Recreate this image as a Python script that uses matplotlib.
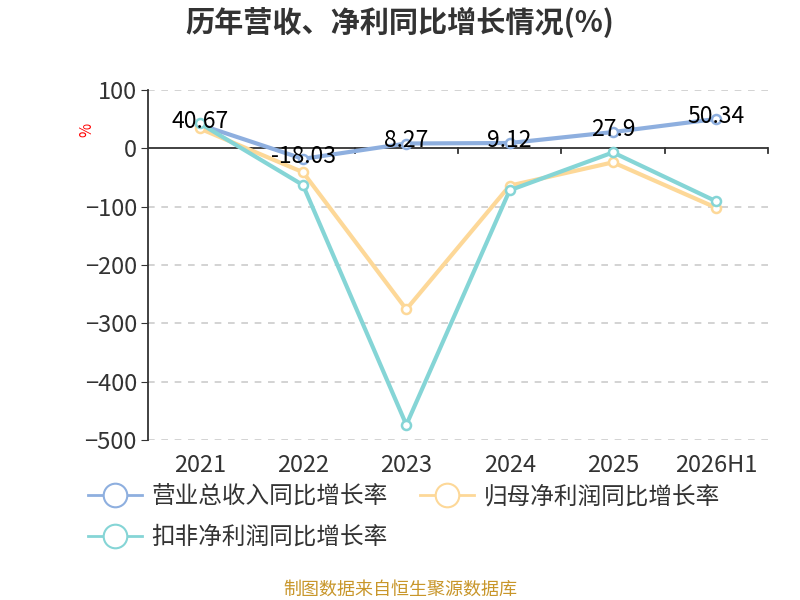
import matplotlib.pyplot as plt
from matplotlib.lines import Line2D

plt.rcParams['font.family'] = ['Noto Sans CJK SC', 'DejaVu Sans']

years = ['2021', '2022', '2023', '2024', '2025', '2026H1']
revenue = [40.67, -18.03, 8.27, 9.12, 27.9, 50.34]
net_profit = [34, -41, -276, -64, -24, -102]
deduct_profit = [43, -63, -474, -72, -7, -91]

names = ['营业总收入同比增长率', '归母净利润同比增长率', '扣非净利润同比增长率']
colors = ['#8eafdf', '#fdd898', '#85d5d6']

fig = plt.figure(figsize=(8, 6), dpi=100)
ax = fig.add_axes([0.185, 0.2667, 0.775, 0.5833])

x = list(range(len(years)))
series = [revenue, net_profit, deduct_profit]
for idx in range(3):
    ax.plot(x, series[idx], color=colors[idx], lw=3, marker='o', ms=6.5,
            mfc='white', mec=colors[idx], mew=1.8, zorder=3 + idx)

for i, v in enumerate(revenue):
    ax.annotate(f'{v:g}', (i, v), xytext=(0, 2), textcoords='offset points',
                ha='center', va='center', fontsize=16.5, color='black', zorder=8)

ax.set_xlim(-0.5, 5.5)
ax.set_ylim(-500, 100)
ax.set_yticks([100, 0, -100, -200, -300, -400, -500])
ax.set_xticks(x)
ax.set_xticklabels(years)
ax.tick_params(axis='x', length=0, labelsize=17, labelcolor='#333333', pad=10)
ax.tick_params(axis='y', length=5, labelsize=17, labelcolor='#333333',
               color='#333333', pad=3)

# x axis line sits at zero, ticks between categories
ax.axhline(0, color='#333333', lw=1.3, zorder=2)
for b in [0.5, 1.5, 2.5, 3.5, 4.5, 5.5]:
    ax.plot([b, b], [0, -8], color='#333333', lw=1.3, clip_on=False, zorder=2)

for yv in [100, -100, -200, -300, -400, -500]:
    ax.axhline(yv, color='#cccccc', lw=1.2, ls=(0, (4, 4)), zorder=1)

for s in ['top', 'right', 'bottom']:
    ax.spines[s].set_visible(False)
ax.spines['left'].set_color('#333333')
ax.spines['left'].set_linewidth(1.3)

fig.text(0.5, 0.963, '历年营收、净利同比增长情况(%)', ha='center', va='center',
         fontsize=21, fontweight='bold', color='#333333')
fig.text(0.108, 0.783, '%', ha='center', va='center', rotation=90,
         fontsize=11, color='red')
fig.text(0.5, 0.017, '制图数据来自恒生聚源数据库', ha='center', va='center',
         fontsize=13, color='#c8962a')

handles = [Line2D([], [], color=c, lw=2, marker='o', ms=17, mfc='white',
                  mec=c, mew=1.5) for c in colors]
order = [0, 2, 1]
fig.legend([handles[i] for i in order], [names[i] for i in order],
           loc='upper left', bbox_to_anchor=(0.098, 0.207), ncol=2, frameon=False,
           fontsize=17, handlelength=2.3, columnspacing=1.35,
           labelspacing=0.75, handletextpad=0.4, labelcolor='#333333',
           borderaxespad=0)

fig.savefig('out.png')
